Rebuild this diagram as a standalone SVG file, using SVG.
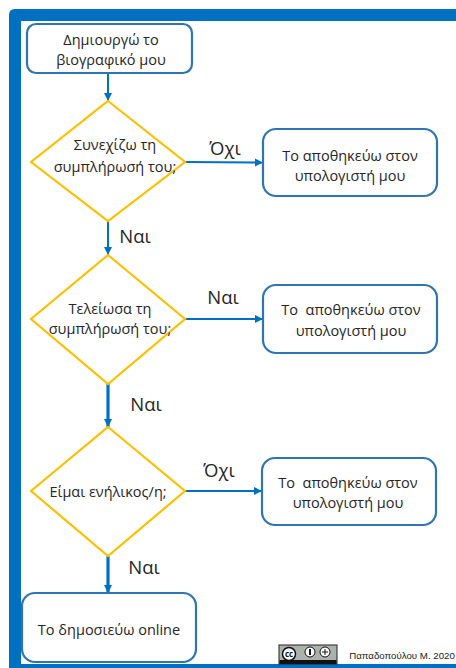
<svg xmlns="http://www.w3.org/2000/svg" width="456" height="668" viewBox="0 0 456 668">
<style>
text{font-family:"Open Sans","Noto Sans","Liberation Sans",sans-serif;fill:#262626;text-anchor:middle}
.t{font-size:14.500px}
.l{font-size:18.500px}
.b{fill:#fff;stroke:#2e75b6;stroke-width:2.2}
.d{fill:#fff;stroke:#ffc000;stroke-width:2.2}
.c{fill:none;stroke:#0070c0;stroke-width:2}
.h{stroke-width:3.2}
</style>
<defs>
<marker id="a" markerUnits="userSpaceOnUse" markerWidth="10" markerHeight="10" refX="8" refY="4" orient="auto"><path d="M0 0L8 4L0 8Z" fill="#0070c0"/></marker>
</defs>
<rect width="456" height="668" fill="#fff"/>
<path id="frame" d="M456 9H15Q9 9 9 15V668H21V21H456ZM21 664H456V668H21Z" fill="#0070c0"/>
<g id="connectors">
<path class="c" d="M108 73V101" marker-end="url(#a)"/>
<path class="c" d="M185 162L263 162.500" marker-end="url(#a)"/>
<path class="c" d="M108 221V255" marker-end="url(#a)"/>
<path class="c" d="M185 319H263" marker-end="url(#a)"/>
<path class="c h" d="M108 384V427" marker-end="url(#a)"/>
<path class="c" d="M185 491H262" marker-end="url(#a)"/>
<path class="c h" d="M108 556V593" marker-end="url(#a)"/>
</g>
<g id="start"><rect class="b" x="27" y="24" width="165" height="49" rx="9"/><text class="t" x="111" y="45">Δημιουργώ το</text><text class="t" x="111" y="65">βιογραφικό μου</text></g>
<g id="decision1"><path class="d" d="M108 101L185 162L108 221L31 162Z"/><text class="t" x="115" y="150">Συνεχίζω τη</text><text class="t" x="115" y="172">συμπλήρωσή του;</text></g>
<g id="save1"><rect class="b" x="263" y="129" width="174" height="67" rx="13"/><text class="t" x="350" y="161">Το αποθηκεύω στον</text><text class="t" x="350" y="181">υπολογιστή μου</text></g>
<g id="decision2"><path class="d" d="M108 255L185 319L108 384L31 319Z"/><text class="t" x="110" y="314">Τελείωσα τη</text><text class="t" x="110" y="334">συμπλήρωσή του;</text></g>
<g id="save2"><rect class="b" x="263" y="285" width="174" height="68" rx="13"/><text class="t" x="351" y="315" xml:space="preserve">Το  αποθηκεύω στον</text><text class="t" x="351" y="336">υπολογιστή μου</text></g>
<g id="decision3"><path class="d" d="M108 427L185 491L108 556L31 491Z"/><text class="t" x="108" y="497">Είμαι ενήλικος/η;</text></g>
<g id="save3"><rect class="b" x="262" y="458" width="174" height="67" rx="13"/><text class="t" x="348" y="488" xml:space="preserve">Το  αποθηκεύω στον</text><text class="t" x="348" y="508">υπολογιστή μου</text></g>
<g id="end"><rect class="b" x="22" y="593" width="174" height="69" rx="13"/><text class="t" x="109" y="635">Το δημοσιεύω online</text></g>
<g id="labels">
<text class="l" x="225" y="155">Όχι</text>
<text class="l" x="135" y="243">Ναι</text>
<text class="l" x="223" y="304">Ναι</text>
<text class="l" x="146" y="411">Ναι</text>
<text class="l" x="219" y="477">Όχι</text>
<text class="l" x="144" y="574">Ναι</text>
</g>
<g id="credit">
<rect x="279" y="645" width="58" height="19" fill="#aab2ab" stroke="#222" stroke-width="1"/>
<rect x="279.500" y="660" width="57" height="4" fill="#111"/>
<circle cx="289" cy="654" r="6.500" fill="#fff" stroke="#111" stroke-width="1.500"/>
<text x="289" y="657" style="font-size:8px;font-weight:700;fill:#111">cc</text>
<circle cx="310" cy="652" r="5" fill="#fff" stroke="#111"/><path d="M310 649V655" stroke="#111" stroke-width="2"/>
<circle cx="325" cy="652" r="5" fill="#fff" stroke="#111"/><path d="M322 652H328M325 649V655" stroke="#111"/>
<text x="402" y="659" style="font-family:'Liberation Sans',sans-serif;font-size:9.700px;fill:#222">Παπαδοπούλου Μ. 2020</text>
</g>
</svg>
